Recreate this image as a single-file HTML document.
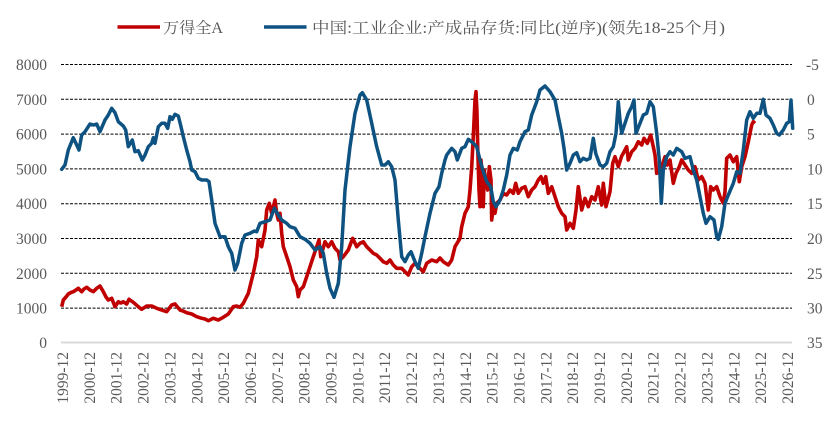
<!DOCTYPE html>
<html><head><meta charset="utf-8"><style>
html,body{margin:0;padding:0;background:#fff;}
svg{display:block;}
.t{font-family:"Liberation Serif",serif;font-size:15.5px;fill:#595959;}
.lg{font-family:"Liberation Serif","Noto Serif CJK SC","Noto Sans CJK SC",serif;font-size:15.5px;fill:#595959;}
</style></head><body>
<svg width="837" height="422" viewBox="0 0 837 422" xmlns="http://www.w3.org/2000/svg">
<rect width="837" height="422" fill="#fff"/>
<!-- legend -->
<line x1="117.5" y1="27" x2="160" y2="27" stroke="#C00000" stroke-width="3.5"/>
<text class="lg" x="163" y="33" textLength="60" lengthAdjust="spacingAndGlyphs">万得全A</text>
<line x1="264" y1="27" x2="306.5" y2="27" stroke="#0E5282" stroke-width="3.5"/>
<text class="lg" x="312" y="33" textLength="413" lengthAdjust="spacingAndGlyphs">中国:工业企业:产成品存货:同比(逆序)(领先18-25个月)</text>
<!-- grid -->
<g stroke="#000" stroke-width="1" stroke-dasharray="3,1.5">
<line x1="61" y1="64.5" x2="792" y2="64.5"/>
<line x1="61" y1="99.3" x2="792" y2="99.3"/>
<line x1="61" y1="134.1" x2="792" y2="134.1"/>
<line x1="61" y1="168.9" x2="792" y2="168.9"/>
<line x1="61" y1="203.7" x2="792" y2="203.7"/>
<line x1="61" y1="238.5" x2="792" y2="238.5"/>
<line x1="61" y1="273.3" x2="792" y2="273.3"/>
<line x1="61" y1="308.1" x2="792" y2="308.1"/>
</g>
<line x1="61" y1="342.5" x2="792" y2="342.5" stroke="#d9d9d9" stroke-width="2"/>
<!-- left labels -->
<g class="t" text-anchor="end">
<text x="47" y="70">8000</text>
<text x="47" y="104.8">7000</text>
<text x="47" y="139.6">6000</text>
<text x="47" y="174.4">5000</text>
<text x="47" y="209.2">4000</text>
<text x="47" y="244">3000</text>
<text x="47" y="278.8">2000</text>
<text x="47" y="313.6">1000</text>
<text x="47" y="348">0</text>
</g>
<g class="t">
<text x="806" y="70">-5</text>
<text x="807" y="104.8">0</text>
<text x="807" y="139.6">5</text>
<text x="807" y="174.4">10</text>
<text x="807" y="209.2">15</text>
<text x="807" y="244">20</text>
<text x="807" y="278.8">25</text>
<text x="807" y="313.6">30</text>
<text x="807" y="348">35</text>
</g>
<!-- x labels -->
<g class="t" text-anchor="end">
<text transform="translate(68,352) rotate(-90)">1999-12</text>
<text transform="translate(94.85,352) rotate(-90)">2000-12</text>
<text transform="translate(121.7,352) rotate(-90)">2001-12</text>
<text transform="translate(148.55,352) rotate(-90)">2002-12</text>
<text transform="translate(175.4,352) rotate(-90)">2003-12</text>
<text transform="translate(202.25,352) rotate(-90)">2004-12</text>
<text transform="translate(229.1,352) rotate(-90)">2005-12</text>
<text transform="translate(255.95,352) rotate(-90)">2006-12</text>
<text transform="translate(282.8,352) rotate(-90)">2007-12</text>
<text transform="translate(309.65,352) rotate(-90)">2008-12</text>
<text transform="translate(336.5,352) rotate(-90)">2009-12</text>
<text transform="translate(363.35,352) rotate(-90)">2010-12</text>
<text transform="translate(390.2,352) rotate(-90)">2011-12</text>
<text transform="translate(417.05,352) rotate(-90)">2012-12</text>
<text transform="translate(443.9,352) rotate(-90)">2013-12</text>
<text transform="translate(470.75,352) rotate(-90)">2014-12</text>
<text transform="translate(497.6,352) rotate(-90)">2015-12</text>
<text transform="translate(524.45,352) rotate(-90)">2016-12</text>
<text transform="translate(551.3,352) rotate(-90)">2017-12</text>
<text transform="translate(578.15,352) rotate(-90)">2018-12</text>
<text transform="translate(605,352) rotate(-90)">2019-12</text>
<text transform="translate(631.85,352) rotate(-90)">2020-12</text>
<text transform="translate(658.7,352) rotate(-90)">2021-12</text>
<text transform="translate(685.55,352) rotate(-90)">2022-12</text>
<text transform="translate(712.4,352) rotate(-90)">2023-12</text>
<text transform="translate(739.25,352) rotate(-90)">2024-12</text>
<text transform="translate(766.1,352) rotate(-90)">2025-12</text>
<text transform="translate(792.95,352) rotate(-90)">2026-12</text>
</g>
<!-- red series -->
<polyline fill="none" stroke="#C00000" stroke-width="3.6" stroke-linejoin="round" points="61.7,306.7 63.3,300 66,297 68.3,294 71,292.5 73.3,291.7 76,290 78.3,288.3 81.7,291.7 84,289 86.7,287.3 90,290 93.3,291.7 96.7,288.3 100,286 103.3,291.7 106,297 108.3,300 111.7,298.3 115,306.7 118.3,301.7 121,303 123.3,301.7 126.7,304 129,299.3 133.3,302.3 138.3,306.7 141.7,309.3 146.7,306 151.7,306 156.7,308.3 161.7,310 166.7,311.7 171.7,305 175,304 180,310 183,311 186.7,312.7 191.7,314 196.7,316.7 201.7,318.3 205,319 208.3,320.7 213.3,318.3 218.3,320 223.3,317.3 228.3,314 233.3,306.7 236.7,306 240,307.3 243.3,303.3 248.3,293.3 253.3,273.3 256.7,256.7 258.3,240 261.7,246.7 265,230 266.7,210 269.3,203.3 271.7,213.3 275,200 276.7,213.3 278.3,220 280,213.3 281.7,233.3 283.3,246.7 286.7,256.7 290,266.7 293.3,280 296.7,286.7 298.3,296.7 300,290 303.3,286.7 306.7,276.7 310,266.7 313.3,256.7 316.7,246.7 319,240 320.7,256.7 325,241.7 328.3,246.7 331.7,241.7 335,248.3 338.3,251.7 340,260 343.3,256.7 348.3,250 352.7,238.3 356.7,246.7 360,243.3 363.3,241.7 366.7,246.7 370,250 373.3,253.3 376.7,255 380,258.3 383.3,261.7 386.7,263.3 390,260 393.3,265 396.7,268.3 401.7,268.3 405,271.7 408.3,275 411.7,266.7 415,263.3 418.3,266.7 423.3,271.7 426.7,263.3 431.7,260 436.7,261.7 440,258 443.3,261.7 448.3,265 451.7,260 455,246.7 460,238.3 461.7,226.7 465,213.3 468.3,206.7 470,190 471.7,166.7 473.3,136.7 475,100 476,91.7 477,113.3 477.7,146.7 479,190 480,206.7 481,160 482.3,176.7 483.3,206.7 484.3,170 485.7,180 487.7,190 489.3,166.7 491,180 491.7,220 493.3,206.7 495,213.3 496.7,203.3 500,200 503.3,193.3 506.7,195 510,190 513.3,193.3 515.7,183.3 518.3,193.3 521.7,188.3 525,186.7 528.3,196.7 531.7,190 535,186.7 538.3,180 541,176.7 543.3,183.3 545.7,176.7 548.3,193.3 551.7,186.7 555,196.7 558.3,206.7 561.7,213.3 565,216.7 566.7,230 570,223.3 573.3,228.3 576,210 578.3,186.7 581.7,210 585,198.3 588.3,206.7 591.7,196.7 595,200 598.3,186.7 601.7,205 603.3,183.3 606,206.7 610,191.7 612.7,163.3 615,156.7 618.3,166.7 621.7,156 623.3,153.3 626.7,146.7 628.3,160 631.7,151.7 635,148.3 638.3,141.7 641.7,145 644,138.3 647.3,143.3 650.7,135 653.3,146.7 655,155 656.7,173.3 659.3,171.7 661.7,166.7 665,156.7 667.3,165 670,160 673.3,183.3 676,173.3 679.3,166.7 681.7,160 685,165 688.3,170 691.7,173.3 695,166.7 698.3,180 701.7,176.7 705,183.3 708.3,210 710.7,186.7 713.3,190 716.7,186.7 720,196.7 723.3,203.3 725,191.7 726.7,158.3 730,155 733.3,161.7 736.7,156.7 739.3,181.7 741.7,166.7 745,156.7 748.3,141.7 751.7,125 753.3,121.7 755,123.3"/>
<!-- blue series -->
<polyline fill="none" stroke="#0E5282" stroke-width="3.5" stroke-linejoin="round" stroke-linecap="round" points="61.7,169.3 65,165 68.3,150 73.3,137.7 76.7,145 79,150 81.7,135 85,131.7 90,124 93.3,125 96.7,124 100,131.7 105,120 108.3,115 111.7,108.3 115,112.7 118.3,121.7 123.3,126 125.7,130 128.3,146.7 132.3,140 135,151.7 138.3,150.7 142.3,160 145,155 148.3,146.7 151.7,143.3 153.3,137.7 155,143.3 158.3,126.7 161.7,123.3 165,123.3 167.7,128.3 170,116.7 172.3,119.3 175,114.3 178.3,116 181,126.7 183.3,136.7 186.7,150 190,161.7 191.7,170 195,171.7 198.3,178.3 201.7,180 206.7,180 209,181.7 211.7,200 215,223.3 220,236.7 225,236.7 228.3,246.7 231.7,253.3 235,270 237.7,263.3 241.7,243.3 245,235 250,233.3 254.3,231 256.7,231.7 260,223.3 265,221.7 270,220 274.3,208.3 278.3,215 281.7,220 286.7,223.3 290,226.7 295,228.3 300,236.7 305,239.3 310,243.3 315,250 320,246.7 323.3,253.3 326.7,273.3 330,288.3 334,297.3 338.3,283.3 341.7,246.7 345,190 350,146.7 355,113.3 360,95 362.3,92.7 366.7,100 371.7,123.3 376.7,146.7 381.7,165 385,165 388.3,161.7 391.7,166.7 395,180 398.3,220 401.7,256.7 405,261.7 408.3,255 411,251.7 415,261.7 418.3,268.3 421.7,253.3 425,236.7 430,213.3 435,193.3 439,186.7 441.7,173.3 445,160 446.7,155 451.7,148.3 455,151.7 457.3,160 461.7,148.3 465,146.7 468.3,139.3 473.3,143.3 476.7,146.7 480,160 483.3,171.7 486.7,181.7 490.7,186.7 493.3,201.7 496,206.7 500,200 503.3,190 506.7,175 510,155 513.3,148.3 517.3,150 520,141.7 525,131.7 528.3,130 531.7,115 536.7,101.7 540,90 545,86 550,91.7 555,100 558.3,116.7 561.7,133.3 564,148.3 566.7,170 570,163.3 573.3,155 576.7,152.7 580,161.7 583.3,158.3 586.7,160 590,158.3 593.3,138.3 595.7,153.3 600,165 603.3,166.7 606.7,163.3 610,151.7 613.3,146.7 616,133.3 618.3,101.7 620,120 621.7,133.3 625,123.3 628.3,113.3 631.7,106.7 634,100 636,133.3 640,123.3 643.3,115 646.7,113.3 650,101.7 653.3,106.7 656.7,133.3 659.3,160 661.3,203.3 663.3,170 666.7,156.7 670,151.7 673.3,155 676.7,148.3 681.7,151.7 685,158.3 690,156.7 693.3,170 696.7,180 700,196.7 703.3,213.3 706,223.3 710,216.7 714,220 716.7,236.7 718.3,239.3 721.7,226.7 725,203.3 728.3,195 733.3,183.3 736.7,171.7 740,173.3 743.3,150 746.7,120 750,111.7 753.3,118.3 756.7,113.3 760,113.3 763.3,99.3 766,115 770,118.3 773.3,125 776.7,133.3 779.3,135 783.3,130 786.7,123.3 789.3,121.7 791,100 792.7,128.3"/>
</svg>
</body></html>
